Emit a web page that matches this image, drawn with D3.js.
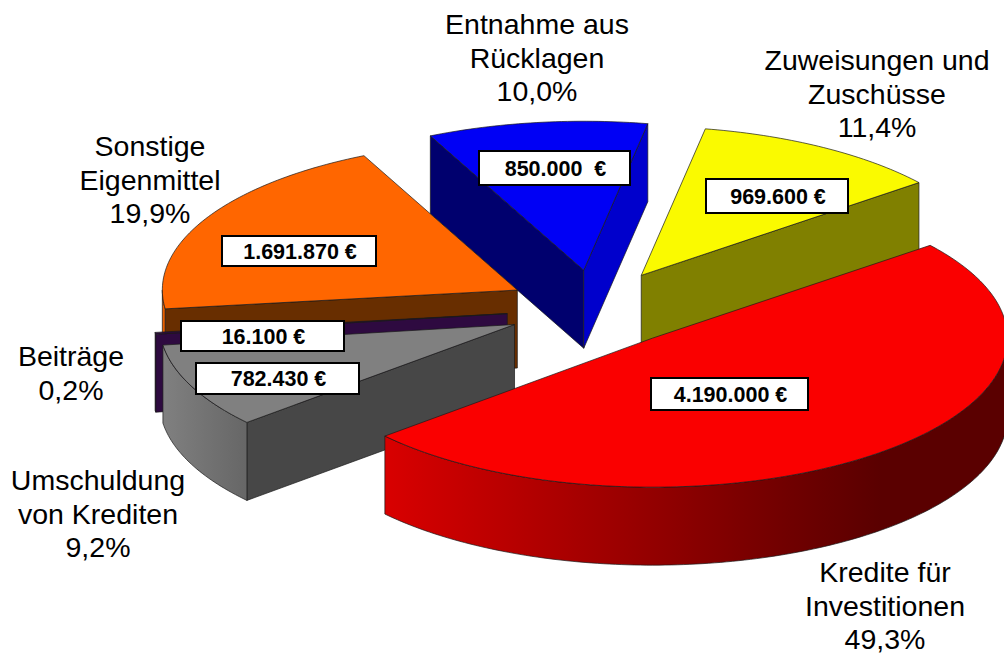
<!DOCTYPE html>
<html>
<head>
<meta charset="utf-8">
<script src="https://cdnjs.cloudflare.com/ajax/libs/d3/7.8.5/d3.min.js"></script>
<style>
    body { margin: 0; background: #fff; }
    text { font-family: "Liberation Sans", Arial, sans-serif; fill: #000; white-space: pre; }
</style>
</head>
<body>
<svg id="chart" width="1004" height="656"></svg>
<script>
// slices in clockwise order, starting with the yellow one
var categories = [
    ['Zuweisungen und', 'Zuschüsse'],
    ['Kredite für', 'Investitionen'],
    ['Umschuldung', 'von Krediten'],
    ['Beiträge'],
    ['Sonstige', 'Eigenmittel'],
    ['Entnahme aus', 'Rücklagen']
];
var values = [969600, 4190000, 782430, 16100, 1691870, 850000];
var percents = ['11,4%', '49,3%', '9,2%', '0,2%', '19,9%', '10,0%'];
var amounts = ['969.600 €', '4.190.000 €', '782.430 €', '16.100 €', '1.691.870 €', '850.000  €'];

var topColors = ['#fafa00', '#fa0000', '#808080', '#2e0a40', '#ff6600', '#0000f5'];
var startWall = ['#808000', '#800000', '#474747', '#2e0a40', '#682e00', '#00006e'];
var endWall = ['#808000', '#800000', '#474747', '#2e0a40', '#682e00', '#0000cc'];

// paint order, back to front
var paintOrder = [5, 0, 4, 3, 2, 1];

// where the texts and boxes sit: [centre x, first line y], [x, y, w, h]
var labelPos = [[877, 60], [885, 572], [98, 480], [71, 356], [150, 146], [537, 24]];
var boxPos = [[706, 179, 142, 34], [651, 378, 157, 32], [196, 363, 163, 31], [181, 321, 163, 30], [222, 236, 154, 30], [479, 151, 151, 34]];

var cx = 595.5, cy = 308.5, rx = 355, ry = 149, depth = 78;
var explodeX = 89, explodeY = 38.6;
var rad = Math.PI / 180;

var svg = d3.select('#chart');

var pie = d3.pie().sort(null).startAngle(10.4 * rad).endAngle(370.4 * rad);
var arcs = pie(values);

var xScale = d3.scaleLinear().domain([-1, 1]).range([-rx, rx]);
var yScale = d3.scaleLinear().domain([-1, 1]).range([ry, -ry]);
var line = d3.line();

var defs = svg.append('defs');
function gradient(id, x1, x2, stops) {
    var g = defs.append('linearGradient').attr('id', id)
        .attr('gradientUnits', 'userSpaceOnUse')
        .attr('x1', x1).attr('x2', x2).attr('y1', 0).attr('y2', 0);
    stops.forEach(function(s) {
        g.append('stop').attr('offset', s[0]).attr('stop-color', s[1]);
    });
    return 'url(#' + id + ')';
}
var outerWall = [
    '#808000',
    gradient('redWall', 387, 1004, [[0, '#d80000'], [0.35, '#a00000'], [0.65, '#700000'], [0.8, '#5a0000'], [1, '#5a0000']]),
    gradient('grayWall', 163, 248, [[0, '#808080'], [1, '#666']]),
    '#2e0a40',
    '#e86000',
    '#0000cc'
];

function rimPoint(c, a) {
    return [c[0] + xScale(Math.sin(a)), c[1] + yScale(Math.cos(a))];
}

function rimPoints(c, a0, a1) {
    var n = Math.max(2, Math.ceil((a1 - a0) / rad));
    return d3.range(n + 1).map(function(i) {
        return rimPoint(c, a0 + (a1 - a0) * i / n);
    });
}

function drop(p) {
    return [p[0], p[1] + depth];
}

function drawFace(points, fill) {
    svg.append('path')
        .attr('d', line(points) + 'Z')
        .attr('fill', fill)
        .attr('stroke', '#1a1a1a')
        .attr('stroke-width', 0.7)
        .attr('stroke-linejoin', 'round');
}

paintOrder.forEach(function(i) {
    var d = arcs[i];
    var mid = (d.startAngle + d.endAngle) / 2;
    // exploded slices move along the middle of their angle
    var c = [cx + Math.sin(mid) * explodeX, cy - Math.cos(mid) * explodeY];

    // radial walls, only when they face the viewer
    if (Math.sin(d.startAngle) < 0) {
        var p0 = rimPoint(c, d.startAngle);
        drawFace([c, p0, drop(p0), drop(c)], startWall[i]);
    }
    if (Math.sin(d.endAngle) > 0) {
        var p1 = rimPoint(c, d.endAngle);
        drawFace([c, p1, drop(p1), drop(c)], endWall[i]);
    }

    // curved wall, the front half of the rim only
    var w0 = Math.max(d.startAngle, 90 * rad);
    var w1 = Math.min(d.endAngle, 270 * rad);
    if (w1 > w0) {
        var rim = rimPoints(c, w0, w1);
        drawFace(rim.concat(rim.map(drop).reverse()), outerWall[i]);
    }

    drawFace([c].concat(rimPoints(c, d.startAngle, d.endAngle)), topColors[i]);
});

// white value boxes
amounts.forEach(function(t, i) {
    var b = boxPos[i];
    svg.append('rect')
        .attr('x', b[0]).attr('y', b[1]).attr('width', b[2]).attr('height', b[3])
        .attr('fill', '#fff').attr('stroke', '#000').attr('stroke-width', 2);
    svg.append('text')
        .attr('x', b[0] + b[2] / 2 + 1).attr('y', b[1] + b[3] / 2)
        .attr('dy', '0.36em')
        .attr('text-anchor', 'middle')
        .attr('font-weight', 'bold')
        .attr('font-size', 21.5)
        .text(t);
});

// category labels with their share
categories.forEach(function(lines, i) {
    var pos = labelPos[i];
    lines.concat([percents[i]]).forEach(function(t, j) {
        svg.append('text')
            .attr('x', pos[0]).attr('y', pos[1] + j * 33.5)
            .attr('dy', '0.36em')
            .attr('text-anchor', 'middle')
            .attr('font-size', 28.5)
            .text(t);
    });
});
</script>
</body>
</html>
